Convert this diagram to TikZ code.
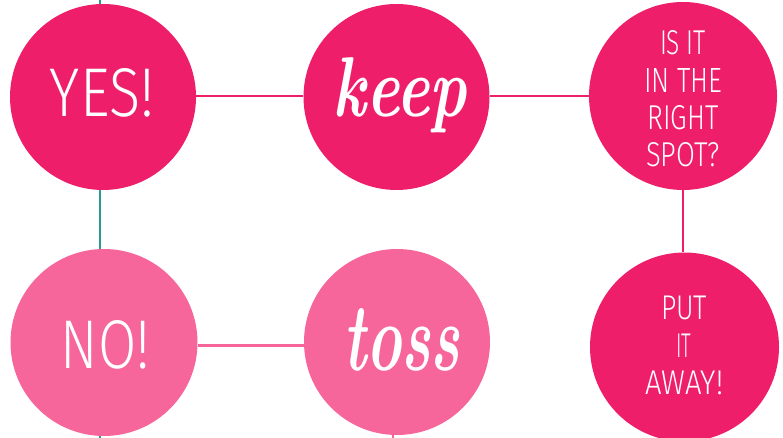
\documentclass[tikz,border=0pt]{standalone}
\usepackage{fontspec}
\newfontfamily\condfont{Fira Sans Light}
\definecolor{hot}{HTML}{EE1E6B}
\definecolor{soft}{HTML}{F7669B}
\definecolor{tealline}{HTML}{2A9A96}
\begin{document}
\begin{tikzpicture}[x=1pt,y=-1pt,
  bubble/.style={circle, inner sep=0pt, minimum size=#1},
  bubble/.default=186pt,
  word/.style={anchor=base, inner sep=0pt, text=white},
  stack/.style={align=center, inner sep=0pt, text=white, font=\condfont\fontsize{30}{#1}\selectfont},
  link/.style={line width=2pt}]
\useasboundingbox (0,0) rectangle (783,438);
% circles
\node[bubble, fill=hot] (yes) at (103,97) {};
\node[bubble, fill=hot] (keep) at (396.5,97) {};
\node[bubble=188pt, fill=hot] (isit) at (683,96) {};
\node[bubble=187pt, fill=soft] (no) at (104,342.5) {};
\node[bubble, fill=soft] (toss) at (397,342) {};
\node[bubble=189pt, fill=hot] (put) at (684.5,347) {};
% connectors
\coordinate (ttop) at (99.5,0);
\coordinate (tbot) at (99.5,438);
\draw[link, tealline] (ttop) -- (ttop |- yes.north);
\draw[link, tealline] (ttop |- yes.south) -- (ttop |- no.north);
\draw[link, tealline] (ttop |- no.south) -- (tbot);
\coordinate (hline) at (0,95.7);
\draw[link, hot] (hline -| yes.east) -- (hline -| keep.west);
\draw[link, hot] (hline -| keep.east) -- (hline -| isit.west);
\coordinate (lline) at (0,345.5);
\draw[line width=2.5pt, soft] (lline -| no.east) -- (lline -| toss.west);
\draw[link, hot] (isit.south) -- (isit.south |- put.north);
\coordinate (sbot) at (393,438);
\draw[link, soft] (sbot |- toss.south) -- (sbot);
% texts
\node[word] (yestxt) at (102,117) {\resizebox{104pt}{48pt}{\condfont YES!}};
\node[word] (notxt) at (105.5,368) {\resizebox{89pt}{48pt}{\condfont NO!}};
\node[word] (keeptxt) at (400,117) {\resizebox{134pt}{59pt}{\bfseries\itshape keep}};
\node[word] (tosstxt) at (401.5,370) {\resizebox{117pt}{62pt}{\bfseries\itshape toss}};
\node[stack=37.33pt] (isittxt) at (683,99) {\resizebox{46pt}{24pt}{IS IT}\\
  \resizebox{78pt}{24pt}{IN THE}\\
  \resizebox{71pt}{24pt}{RIGHT}\\
  \resizebox{74pt}{24pt}{SPOT?}};
\node[stack=37.5pt] (puttxt) at (684,345.8) {\resizebox{46pt}{23.5pt}{PUT}\\
  \resizebox{15pt}{23.5pt}{IT}\\
  \resizebox{78pt}{23.5pt}{AWAY!}};
\end{tikzpicture}
\end{document}
